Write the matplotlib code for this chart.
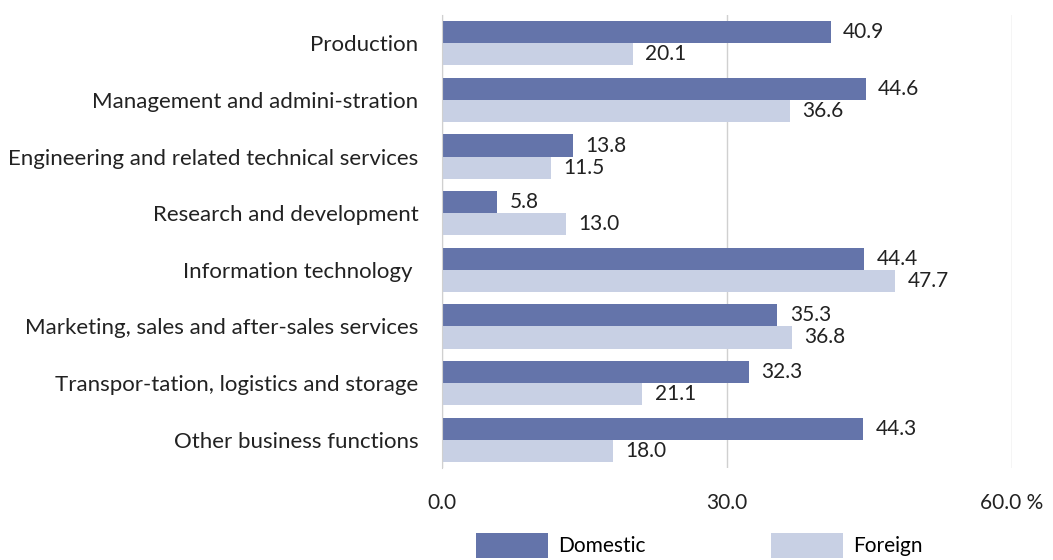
import matplotlib.pyplot as plt
import numpy as np

categories = ["Production",
              "Management and admini-stration",
              "Engineering and related technical services",
              "Research and development",
              "Information technology ",
              "Marketing, sales and after-sales services",
              "Transpor-tation, logistics and storage",
              "Other business functions"]
domestic = [40.9, 44.6, 13.8, 5.8, 44.4, 35.3, 32.3, 44.3]
foreign = [20.1, 36.6, 11.5, 13.0, 47.7, 36.8, 21.1, 18.0]

plt.rcParams['font.family'] = ['Lato', 'DejaVu Sans']

c_dom = '#6474aa'
c_for = '#c8d0e4'
h = 0.39
fs = 15

fig = plt.figure(figsize=(10.53, 5.6), dpi=100)
ax = fig.add_axes([442/1053, 1 - 468/560, (1012-442)/1053, (468-15)/560])

y = np.arange(len(categories))
b1 = ax.barh(y - h/2, domestic, height=h, color=c_dom, label='Domestic', zorder=3)
b2 = ax.barh(y + h/2, foreign, height=h, color=c_for, label='Foreign', zorder=3)

for bars, vals in ((b1, domestic), (b2, foreign)):
    for b, v in zip(bars, vals):
        ax.annotate('%.1f' % v, (v, b.get_y() + b.get_height()/2),
                    xytext=(9, 0), textcoords='offset points',
                    va='center', ha='left', fontsize=fs, color='#222222')

ax.set_xlim(0, 60)
ax.set_ylim(len(categories) - 0.5, -0.5)
ax.set_yticks(y)
ax.set_yticklabels(categories, fontsize=16, color='#222222')
ax.set_xticks([0, 30, 60])
ax.set_xticklabels(['0.0', '30.0', '60.0 %'], fontsize=fs, color='#222222')
ax.tick_params(length=0)
ax.tick_params(axis='y', pad=17)
ax.tick_params(axis='x', pad=18)
ax.grid(axis='x', color='#d0d0d0', linewidth=1, zorder=0)
for s in ['top', 'right', 'bottom']:
    ax.spines[s].set_visible(False)
ax.spines['left'].set_color('#d0d0d0')
ax.spines['left'].set_zorder(4)

ax.legend(loc='upper left', bbox_to_anchor=(34/570, -0.143),
          ncol=2, frameon=False, fontsize=fs, handlelength=3.45, handleheight=1.5,
          columnspacing=6.0, handletextpad=0.5, borderaxespad=0, borderpad=0)

fig.savefig('out.png', dpi=100)
